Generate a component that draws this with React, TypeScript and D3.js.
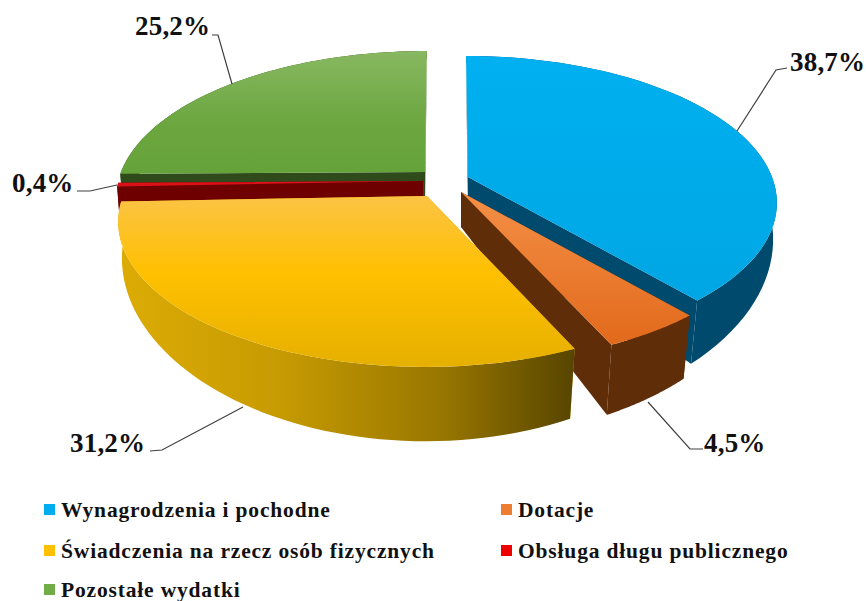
import React from "react";
import * as d3 from "d3";

const categories = ["Wynagrodzenia i pochodne", "Dotacje", "Świadczenia na rzecz osób fizycznych", "Obsługa długu publicznego", "Pozostałe wydatki"];
const shares = [38.7, 4.5, 31.2, 0.4, 25.2];
const valueLabels = ["38,7%", "4,5%", "31,2%", "0,4%", "25,2%"];

const apexes: [number, number][] = [[468, 177], [461, 192], [427, 196], [423, 181], [425, 172]];
const drawOrder = [4, 3, 0, 1, 2];

const topStops = [
  [["0%", "#00b0f0"], ["100%", "#00a6e4"]],
  [["0%", "#f39047"], ["100%", "#e2691b"]],
  [["0%", "#fbc345"], ["45%", "#ffc000"], ["100%", "#e6b000"]],
  [["0%", "#e01018"], ["100%", "#d81018"]],
  [["0%", "#88b861"], ["60%", "#6ba63f"], ["100%", "#66a23a"]],
];
const sideStops = [
  [["0%", "#004a6d"], ["100%", "#004a6d"]],
  [["0%", "#602d09"], ["100%", "#602d09"]],
  [["0%", "#dcab05"], ["35%", "#c79b02"], ["70%", "#9a7800"], ["100%", "#574500"]],
  [["0%", "#6e0000"], ["100%", "#6e0000"]],
  [["0%", "#2f4b1b"], ["100%", "#2f4b1b"]],
];
const legendColors = ["#00aeef", "#ed7d31", "#ffc000", "#ee0000", "#70ad47"];

const leaders: [number, number][][] = [
  [[737, 131], [776, 70], [787, 68]],
  [[648, 402], [690, 449], [703, 449]],
  [[243, 407], [162, 450], [150, 451]],
  [[117, 185], [90, 191], [77, 191]],
  [[232, 84], [218, 35], [212, 35]],
];
const labelPos: [number, number][] = [[790, 71], [704, 452], [70, 452], [12, 192], [135, 35]];
const legendPos: [number, number][] = [[44, 517], [501, 517], [44, 558], [501, 558], [44, 597]];

const RX = 304, RY = 141.7, P = 0.171, MIDX = 446;
const DEPTH = 35, GROW = 1.23;

const project = (a: [number, number], t: number, bottom: boolean): [number, number] => {
  const d = -Math.cos(t);
  const w = 1 / (1 - P * d);
  const dx = RX * Math.sin(t) * w + (a[0] - MIDX) * 0.09 * d;
  const dy = RY * d * w;
  const shrink = 0.992 - 0.025 * Math.max(d, 0);
  return bottom ? [a[0] + shrink * dx, a[1] + DEPTH + GROW * dy] : [a[0] + dx, a[1] + dy];
};

const line = d3.line<[number, number]>().curve(d3.curveLinear);
const arcs = d3.pie<number>().sort(null)(shares);

export default function App() {
  return (
    <svg width={866} height={601} style={{ position: "absolute", left: 0, top: 0, background: "#fff" }}
      fontFamily="'Liberation Serif'" fontWeight="bold" fill="#111">
      <defs>
        {shares.map((_, i) => (
          <React.Fragment key={i}>
            <linearGradient id={`top${i}`} x1="0" y1="0" x2="0" y2="1">
              {topStops[i].map(([o, c]) => <stop key={o} offset={o} stopColor={c} />)}
            </linearGradient>
            <linearGradient id={`side${i}`} x1="0" y1="0" x2="1" y2="0">
              {sideStops[i].map(([o, c]) => <stop key={o} offset={o} stopColor={c} />)}
            </linearGradient>
          </React.Fragment>
        ))}
      </defs>
      {drawOrder.map((i) => {
        const a = apexes[i];
        const { startAngle: t0, endAngle: t1 } = arcs[i];
        const ts = d3.range(0, 61).map((k) => t0 + ((t1 - t0) * k) / 60);
        const topArc = ts.map((t) => project(a, t, false));
        const botArc = ts.map((t) => project(a, t, true));
        const ab: [number, number] = [a[0], a[1] + DEPTH];
        const wall = (t: number) => [a, project(a, t, false), project(a, t, true), ab] as [number, number][];
        const fill = `url(#side${i})`;
        const solid = sideStops[i][0][1];
        return (
          <g key={i}>
            <path d={line(wall(t0))! + "Z"} fill={solid} />
            <path d={line(wall(t1))! + "Z"} fill={solid} />
            <path d={line([...topArc, ...botArc.slice().reverse()])! + "Z"} fill={fill} />
            <path d={line([a, ...topArc])! + "Z"} fill={`url(#top${i})`} />
          </g>
        );
      })}
      {leaders.map((l, i) => <path key={i} d={line(l)!} fill="none" stroke="#404040" strokeWidth={1.2} />)}
      {valueLabels.map((s, i) => (
        <text key={s} x={labelPos[i][0]} y={labelPos[i][1]} fontSize={27} letterSpacing={0.2}>{s}</text>
      ))}
      {categories.map((c, i) => (
        <g key={c}>
          <rect x={legendPos[i][0]} y={legendPos[i][1] - 13} width={11} height={11} fill={legendColors[i]} />
          <text x={legendPos[i][0] + 17} y={legendPos[i][1]} fontSize={21.5} letterSpacing={0.83}>{c}</text>
        </g>
      ))}
    </svg>
  );
}
